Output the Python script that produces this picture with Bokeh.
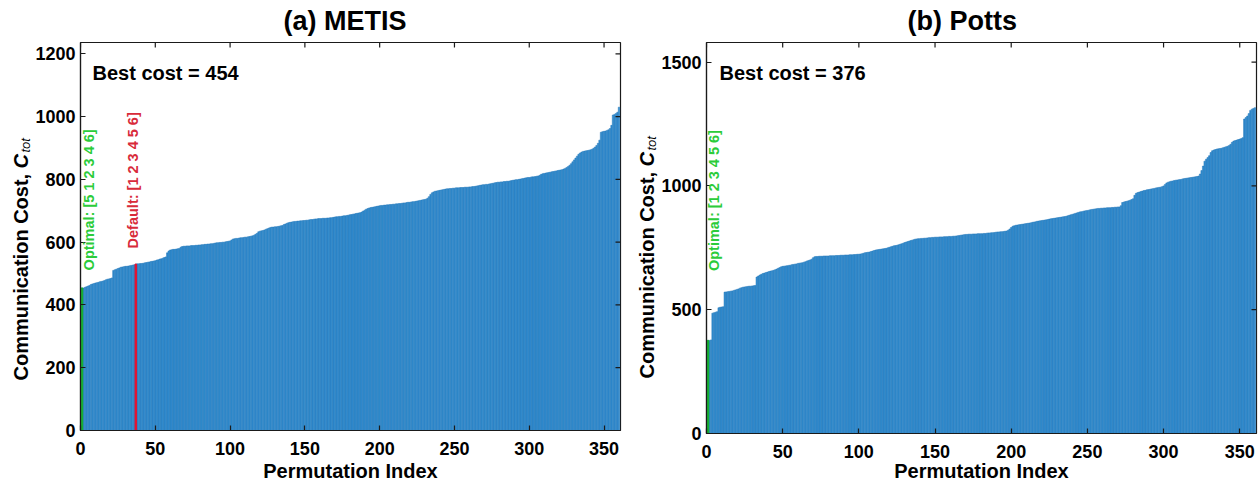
import math
from bokeh.plotting import figure
from bokeh.models import Range1d, FixedTicker, Label
from bokeh.layouts import row
from bokeh.embed import file_html
from bokeh.resources import INLINE

# ---------------- data ----------------
metis_cost = [
    454, 454, 456, 458, 460, 462, 465, 467, 468, 470,
    471, 472, 474, 475, 476, 478, 480, 482, 483, 484,
    486, 510, 512, 514, 516, 518, 520, 521, 522, 523,
    523, 524, 525, 526, 527, 528, 530, 531, 531, 532,
    532, 533, 534, 535, 536, 537, 538, 539, 540, 541,
    543, 544, 546, 547, 549, 551, 553, 566, 572, 575,
    576, 577, 577, 578, 579, 580, 584, 586, 587, 587,
    588, 588, 588, 589, 589, 589, 590, 590, 591, 591,
    592, 592, 593, 593, 594, 594, 595, 595, 596, 597,
    598, 598, 599, 599, 600, 600, 601, 602, 603, 604,
    607, 610, 611, 612, 612, 613, 614, 614, 615, 616,
    616, 617, 618, 619, 620, 622, 625, 628, 633, 635,
    636, 637, 639, 641, 643, 645, 647, 648, 648, 649,
    649, 650, 651, 652, 653, 656, 658, 660, 662, 663,
    664, 665, 666, 666, 667, 667, 668, 668, 669, 669,
    670, 670, 671, 672, 672, 673, 674, 674, 675, 675,
    675, 676, 676, 676, 677, 677, 678, 678, 679, 680,
    681, 681, 682, 682, 683, 684, 684, 685, 686, 687,
    688, 689, 690, 691, 692, 693, 694, 696, 699, 702,
    705, 707, 709, 710, 711, 712, 713, 714, 715, 716,
    717, 717, 718, 718, 719, 719, 720, 720, 721, 721,
    722, 722, 723, 723, 724, 725, 725, 726, 727, 727,
    728, 729, 729, 730, 731, 732, 733, 734, 735, 736,
    737, 740, 745, 752, 757, 760, 762, 763, 764, 765,
    766, 767, 768, 769, 770, 770, 771, 771, 772, 772,
    773, 773, 773, 774, 774, 774, 775, 775, 775, 776,
    776, 777, 777, 778, 779, 780, 781, 782, 783, 783,
    784, 784, 785, 786, 787, 788, 789, 790, 791, 791,
    792, 792, 793, 793, 794, 794, 795, 796, 797, 798,
    799, 799, 800, 801, 802, 803, 804, 805, 806, 806,
    807, 808, 808, 809, 810, 811, 813, 816, 818, 819,
    820, 821, 822, 823, 824, 825, 826, 827, 828, 829,
    830, 831, 833, 835, 838, 841, 845, 850, 856, 862,
    868, 874, 880, 884, 887, 889, 890, 891, 892, 893,
    894, 896, 899, 903, 908, 915, 925, 950, 952, 953,
    954, 956, 958, 962, 972, 1005, 1007, 1010, 1014, 1030,
]

potts_cost = [
    376, 376, 378, 486, 488, 490, 492, 508, 510, 511,
    512, 571, 572, 573, 574, 575, 576, 578, 580, 582,
    584, 587, 589, 591, 592, 593, 594, 595, 595, 596,
    597, 598, 632, 636, 640, 643, 646, 648, 650, 652,
    654, 656, 657, 659, 661, 664, 667, 670, 673, 675,
    676, 677, 678, 679, 680, 682, 683, 684, 685, 687,
    688, 689, 690, 692, 694, 697, 699, 701, 704, 710,
    714, 715, 715, 716, 716, 716, 717, 717, 717, 717,
    718, 718, 718, 718, 719, 719, 719, 720, 720, 720,
    721, 721, 721, 722, 722, 722, 723, 723, 724, 724,
    725, 726, 728, 730, 731, 732, 733, 735, 737, 739,
    741, 742, 743, 744, 745, 746, 747, 748, 750, 752,
    754, 756, 758, 759, 760, 762, 764, 766, 768, 771,
    773, 775, 777, 779, 781, 783, 785, 786, 787, 787,
    788, 788, 789, 789, 790, 791, 791, 792, 792, 793,
    793, 793, 794, 794, 794, 795, 795, 795, 796, 796,
    796, 797, 797, 798, 799, 800, 801, 802, 803, 804,
    804, 805, 805, 805, 806, 806, 806, 807, 807, 807,
    807, 808, 808, 809, 810, 810, 811, 811, 812, 813,
    814, 814, 815, 815, 816, 817, 818, 821, 826, 832,
    837, 839, 841, 842, 843, 844, 845, 846, 847, 848,
    849, 850, 851, 853, 854, 855, 857, 858, 859, 860,
    861, 862, 863, 864, 866, 867, 868, 869, 870, 871,
    872, 873, 874, 875, 876, 877, 879, 881, 883, 885,
    887, 889, 891, 893, 895, 896, 897, 899, 900, 901,
    902, 904, 905, 906, 907, 908, 909, 909, 910, 910,
    911, 911, 912, 912, 912, 913, 913, 914, 914, 915,
    915, 920, 933, 935, 937, 938, 940, 942, 945, 948,
    962, 970, 973, 975, 977, 979, 981, 982, 984, 985,
    986, 988, 989, 990, 992, 993, 994, 995, 997, 1000,
    1006, 1012, 1015, 1017, 1019, 1020, 1022, 1023, 1024, 1025,
    1026, 1027, 1029, 1030, 1031, 1032, 1033, 1034, 1035, 1036,
    1037, 1038, 1040, 1048, 1062, 1080, 1100, 1108, 1115, 1122,
    1135, 1142, 1145, 1147, 1149, 1150, 1151, 1152, 1154, 1156,
    1158, 1160, 1163, 1168, 1176, 1181, 1183, 1185, 1187, 1189,
    1191, 1195, 1270, 1276, 1282, 1292, 1305, 1310, 1313, 1316,
]

x_ticks = [0, 50, 100, 150, 200, 250, 300, 350]
metis_y_ticks = [0, 200, 400, 600, 800, 1000, 1200]
potts_y_ticks = [0, 500, 1000, 1500]

metis_optimal_idx = 1
metis_default_idx = 37
potts_optimal_idx = 1
metis_optimal_perm = "[5 1 2 3 4 6]"
metis_default_perm = "[1 2 3 4 5 6]"
potts_optimal_perm = "[1 2 3 4 5 6]"

# ---------------- styling ----------------
FONT = "Liberation Sans"
BLUE = "#3590d2"
BLUE_EDGE = "#2376b8"
GREEN_BAR = "#16b02a"
GREEN_TXT = "#2bcc3a"
RED_BAR = "#e8102e"
RED_TXT = "#d82a3a"
AXIS = "#1a1a1a"
TICK_LEN = 5  # px


def style_axis(ax, ticks):
    ax.ticker = FixedTicker(ticks=ticks)
    ax.axis_line_color = AXIS
    ax.axis_line_width = 1.2
    ax.major_tick_line_color = AXIS
    ax.major_tick_line_width = 1.2
    ax.major_tick_in = TICK_LEN
    ax.major_tick_out = 0
    ax.minor_tick_in = 0
    ax.minor_tick_out = 0
    ax.major_label_text_font = FONT
    ax.major_label_text_font_style = "bold"
    ax.major_label_text_color = "black"
    ax.major_label_text_font_size = "18px"


def make_panel(title, title_offset, costs, yticks, frame_w, frame_h, b_left, b_right, b_bottom,
               xlab_standoff, highlights, labels, best_xy):
    n = len(costs)
    idx = list(range(1, n + 1))
    ymax = 1.2 * max(costs)
    xmax = n + 1
    p = figure(frame_width=frame_w, frame_height=frame_h,
               x_range=Range1d(0, xmax), y_range=Range1d(0, ymax),
               output_backend="svg", toolbar_location=None,
               min_border_left=b_left, min_border_right=b_right,
               min_border_top=42, min_border_bottom=b_bottom,
               title=title)
    p.title.text_font = FONT
    p.title.text_font_style = "bold"
    p.title.text_font_size = "27px"
    p.title.text_color = "black"
    p.title.align = "left"
    p.title.vertical_align = "top"
    p.title.offset = title_offset
    p.title.standoff = 9
    p.outline_line_color = AXIS
    p.outline_line_width = 1.2
    p.xgrid.visible = False
    p.ygrid.visible = False
    p.background_fill_color = "white"
    p.border_fill_color = "white"

    p.vbar(x=idx, top=costs, width=1, bottom=0, fill_color=BLUE,
           line_color=BLUE_EDGE, line_width=0.5)
    for (hi, fc) in highlights:
        p.vbar(x=[hi], top=[costs[hi - 1]], width=1, bottom=0,
               fill_color=fc, line_color=fc, line_width=1)

    style_axis(p.xaxis[0], x_ticks)
    style_axis(p.yaxis[0], yticks)
    p.xaxis[0].major_label_standoff = 11
    p.yaxis[0].major_label_standoff = 5
    p.xaxis[0].axis_label = "Permutation Index"
    p.xaxis[0].axis_label_text_font = FONT
    p.xaxis[0].axis_label_text_font_style = "bold"
    p.xaxis[0].axis_label_text_font_size = "20px"
    p.xaxis[0].axis_label_text_color = "black"
    p.xaxis[0].axis_label_standoff = xlab_standoff

    # inward ticks on the top and right edges of the box
    ty = ymax * TICK_LEN / frame_h
    tx = xmax * TICK_LEN / frame_w
    p.segment(x0=x_ticks, y0=[ymax] * len(x_ticks), x1=x_ticks, y1=[ymax - ty] * len(x_ticks),
              line_color=AXIS, line_width=1.2)
    p.segment(x0=[xmax] * len(yticks), y0=yticks, x1=[xmax - tx] * len(yticks), y1=yticks,
              line_color=AXIS, line_width=1.2)

    # best cost text
    p.add_layout(Label(x=best_xy[0], y=best_xy[1], x_units="screen", y_units="screen",
                       text="Best cost = %d" % min(costs), text_font=FONT,
                       text_font_style="bold", text_font_size="20px",
                       text_color="black", text_baseline="middle"))

    # rotated permutation labels
    for (lx, ly, txt, col) in labels:
        p.add_layout(Label(x=lx, y=ly, text=txt, angle=math.pi / 2,
                           text_font=FONT, text_font_style="bold", text_font_size="14.5px",
                           text_color=col, text_align="left",
                           text_baseline="middle"))
    return p


def ylabel_strip(width, frame_h, x_main, x_sub, y_start):
    # the row aligns this strip's frame with the neighbouring plot frame,
    # so its y range is expressed in pixels above that frame's bottom edge
    s = figure(frame_width=width, frame_height=frame_h,
               x_range=Range1d(0, width), y_range=Range1d(0, frame_h),
               x_axis_location=None, y_axis_location=None, toolbar_location=None,
               output_backend="svg", title=None,
               min_border_left=0, min_border_right=0, min_border_top=0, min_border_bottom=0)
    s.outline_line_color = None
    s.grid.visible = False
    s.background_fill_color = "white"
    s.border_fill_color = "white"
    s.add_layout(Label(x=x_main, y=y_start, text="Communication Cost, ", angle=math.pi / 2,
                       text_font=FONT, text_font_style="bold", text_font_size="20px",
                       text_color="black", text_align="left", text_baseline="middle"))
    s.add_layout(Label(x=x_main, y=y_start + 212, text="C", angle=math.pi / 2,
                       text_font=FONT, text_font_style="bold italic", text_font_size="20px",
                       text_color="black", text_align="left", text_baseline="middle"))
    s.add_layout(Label(x=x_sub, y=y_start + 228, text="tot", angle=math.pi / 2,
                       text_font=FONT, text_font_style="italic", text_font_size="13px",
                       text_color="black", text_align="left", text_baseline="middle"))
    return s


s1 = ylabel_strip(32, 388, 20.5, 24.5, 50)
p1 = make_panel("(a) METIS", 203, metis_cost, metis_y_ticks, 540, 388, 48, 10, 51, 2,
                [(metis_optimal_idx, GREEN_BAR), (metis_default_idx, RED_BAR)],
                [(5.5, 510, "Optimal: " + metis_optimal_perm, GREEN_TXT),
                 (35.4, 580, "Default: " + metis_default_perm, RED_TXT)],
                (12, 358))
s2 = ylabel_strip(28, 391, 16.5, 20.5, 55)
p2 = make_panel("(b) Potts", 201, potts_cost, potts_y_ticks, 550, 391, 48, 4, 48, -1,
                [(potts_optimal_idx, GREEN_BAR)],
                [(5.1, 656, "Optimal: " + potts_optimal_perm, GREEN_TXT)],
                (13, 361))

layout = row(s1, p1, s2, p2, spacing=0)
with open("out.html", "w") as f:
    f.write(file_html(layout, INLINE))
